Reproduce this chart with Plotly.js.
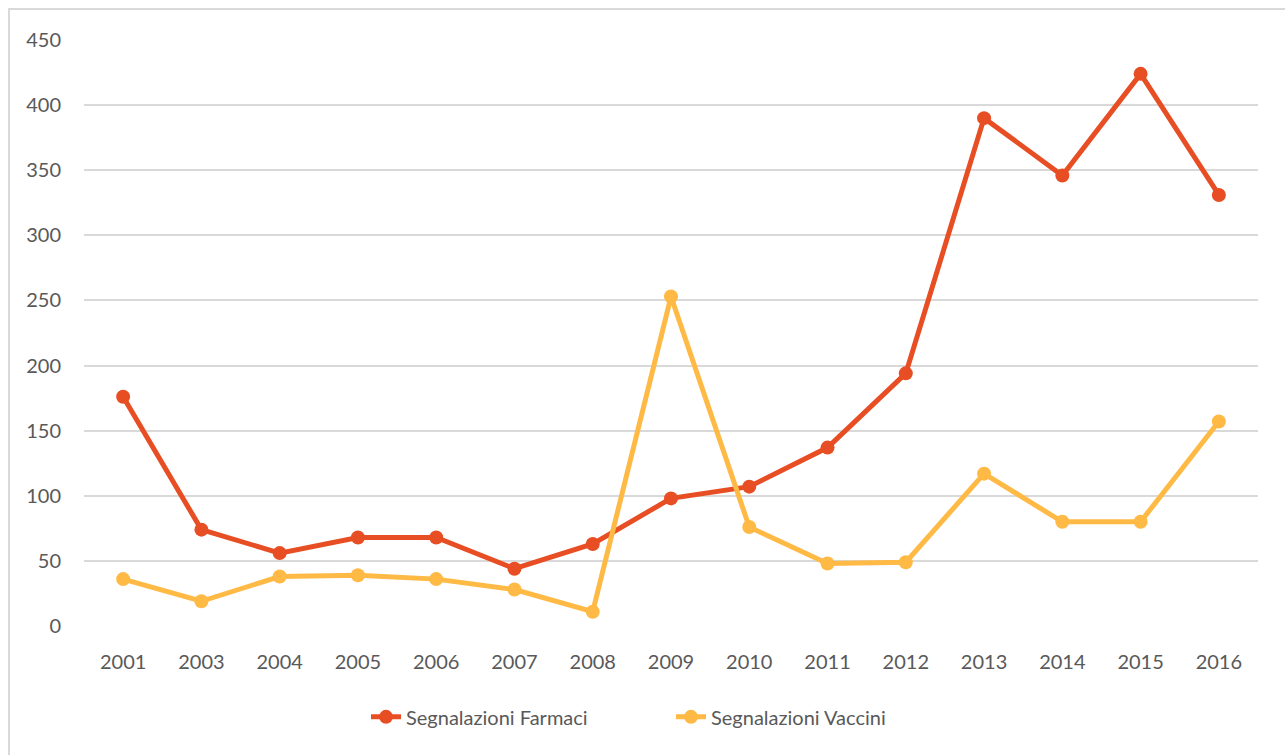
<!DOCTYPE html>
<html>
<head>
<meta charset="utf-8">
<script src="https://cdn.plot.ly/plotly-3.0.1.min.js"></script>
<style>
  html, body { margin: 0; padding: 0; background: #fff; }
  #wrap { position: relative; width: 1285px; height: 755px; overflow: hidden; }
  #plot { position: absolute; left: 0; top: 0; width: 1285px; height: 755px; }
  #frame { position: absolute; left: 8px; top: 8px; width: 1300px; height: 800px;
           border: 2px solid #D9D9D9; box-sizing: border-box; pointer-events: none; }
</style>
</head>
<body>
<div id="wrap">
  <div id="plot"></div>
  <div id="frame"></div>
</div>
<script>
const anni = ['2001', '2003', '2004', '2005', '2006', '2007', '2008', '2009',
              '2010', '2011', '2012', '2013', '2014', '2015', '2016'];
const farmaci = [176, 74, 56, 68, 68, 44, 63, 98, 107, 137, 194, 390, 346, 424, 331];
const vaccini = [36, 19, 38, 39, 36, 28, 11, 253, 76, 48, 49, 117, 80, 80, 157];
const yTicks = [0, 50, 100, 150, 200, 250, 300, 350, 400, 450];

const textColor = '#595959';
const font = { family: 'Lato, "Open Sans", sans-serif', size: 20, color: textColor };

const traces = [
    {
        x: anni,
        y: farmaci,
        name: 'Segnalazioni Farmaci',
        type: 'scatter',
        mode: 'lines+markers',
        line: { color: '#E84E24', width: 5 },
        marker: { color: '#E84E24', size: 14 }
    },
    {
        x: anni,
        y: vaccini,
        name: 'Segnalazioni Vaccini',
        type: 'scatter',
        mode: 'lines+markers',
        line: { color: '#FFB945', width: 5 },
        marker: { color: '#FFB945', size: 14 }
    }
];

const layout = {
    width: 1285,
    height: 755,
    font: font,
    paper_bgcolor: 'rgba(0,0,0,0)',
    plot_bgcolor: 'white',
    margin: { l: 84, r: 27, t: 40, b: 129 },
    showlegend: true,
    legend: {
        orientation: 'h',
        x: 0.5,
        xanchor: 'center',
        y: -0.155,
        yanchor: 'middle',
        entrywidth: 260,
        entrywidthmode: 'pixels',
        font: font
    },
    xaxis: {
        type: 'category',
        range: [-0.5, 14.5],
        showgrid: false,
        zeroline: false,
        showline: false,
        ticks: '',
        ticklabelstandoff: 22,
        tickfont: font
    },
    yaxis: {
        range: [0, 450],
        tickvals: yTicks,
        showgrid: true,
        gridcolor: '#D9D9D9',
        gridwidth: 1.5,
        zeroline: false,
        showline: false,
        ticks: '',
        ticklabelstandoff: 22,
        tickfont: font
    }
};

Plotly.newPlot('plot', traces, layout, { displayModeBar: false, responsive: false });
</script>
</body>
</html>
